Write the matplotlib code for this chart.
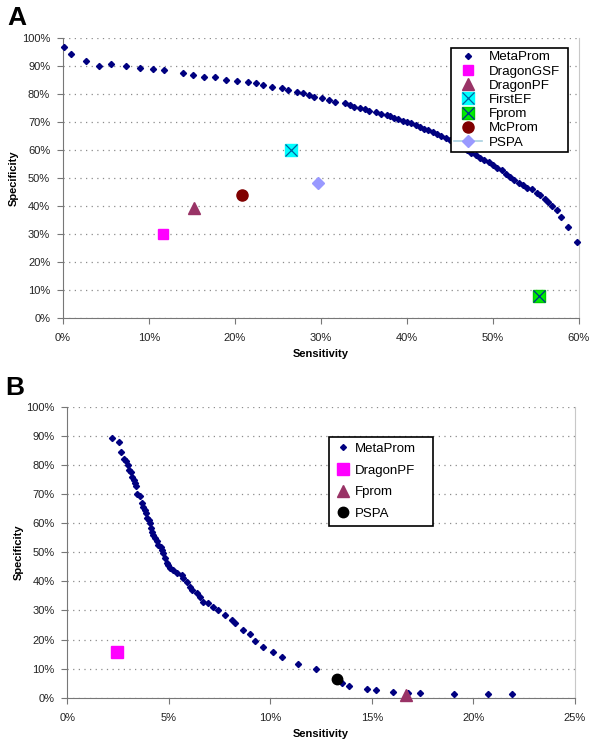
import matplotlib
matplotlib.use("Agg")
import matplotlib.pyplot as plt
from matplotlib.lines import Line2D
from matplotlib.legend_handler import HandlerTuple
from matplotlib.ticker import FuncFormatter

plt.rcParams['font.family'] = ['Liberation Sans', 'DejaVu Sans']

# ---------------- Panel A data (sensitivity %, specificity %) ----------------
a_meta_sens = [0.15, 1.0, 2.7, 4.25, 5.6, 7.3, 9.0, 10.5, 11.8, 14.0, 15.2, 16.4, 17.7,
               19.0, 20.3, 21.5, 22.5, 23.3, 24.3, 25.5, 26.2, 27.2, 27.9, 28.6, 29.2,
               30.1, 30.9, 31.7, 32.8, 33.4, 33.9, 34.5, 35.1, 35.6, 36.4, 37.0, 37.7,
               38.0, 38.5, 39.0, 39.5, 40.0, 40.5, 41.0, 41.5, 42.0, 42.5, 43.0, 43.5,
               44.0, 44.5, 45.0, 45.5, 46.0, 46.5, 47.0, 47.5, 48.0, 48.5, 49.0, 49.5,
               50.0, 50.5, 51.0, 51.5, 52.0, 52.5, 53.0, 53.5, 54.0, 54.5, 55.1, 55.5,
               56.0, 56.4, 56.9, 57.4, 57.9, 58.7, 59.8]
a_meta_spec = [96.6, 94.1, 91.8, 90.0, 90.5, 89.9, 89.3, 88.8, 88.4, 87.5, 86.6, 86.0, 85.9,
               85.0, 84.4, 84.1, 83.7, 83.1, 82.5, 81.9, 81.3, 80.7, 80.1, 79.5, 78.9,
               78.4, 77.8, 77.1, 76.6, 76.0, 75.4, 75.0, 74.4, 73.9, 73.5, 72.8, 72.3,
               72.0, 71.5, 71.0, 70.4, 69.9, 69.4, 68.8, 68.1, 67.5, 66.9, 66.3, 65.6,
               65.0, 64.2, 63.5, 62.6, 61.8, 60.8, 59.8, 58.9, 58.0, 57.2, 56.3, 55.5,
               54.6, 53.6, 52.6, 51.5, 50.4, 49.3, 48.2, 47.3, 46.5, 45.8, 44.6, 43.8,
               42.4, 41.4, 39.9, 38.3, 35.9, 32.5, 27.0]
a_others_names = ['DragonGSF', 'DragonPF', 'FirstEF', 'Fprom', 'McProm', 'PSPA']
a_others_sens = [11.6, 15.3, 26.5, 55.3, 20.8, 29.7]
a_others_spec = [30.0, 39.3, 60.0, 7.8, 43.8, 48.0]

# ---------------- Panel B data ----------------
b_meta_sens = [2.19, 2.56, 2.65, 2.79, 2.89, 3.0, 3.05, 3.12, 3.2, 3.27, 3.33, 3.38, 3.45,
               3.58, 3.66, 3.74, 3.83, 3.88, 3.91, 4.01, 4.07, 4.12, 4.19, 4.24, 4.32,
               4.4, 4.48, 4.6, 4.65, 4.73, 4.81, 4.90, 4.98, 5.06, 5.22, 5.39, 5.64,
               5.71, 5.88, 6.04, 6.13, 6.37, 6.54, 6.70, 6.95, 7.19, 7.44, 7.77, 8.10,
               8.26, 8.67, 9.0, 9.25, 9.66, 10.12, 10.56, 11.35, 12.24, 13.52, 13.89,
               14.75, 15.21, 16.06, 16.77, 17.37, 19.05, 20.74, 21.89]
b_meta_spec = [89.3, 87.8, 84.3, 81.9, 81.3, 80.0, 78.2, 77.7, 75.7, 74.8, 73.7, 72.7, 69.9,
               69.4, 66.8, 65.6, 64.5, 63.4, 61.6, 61.1, 59.9, 58.2, 57.0, 55.9, 54.8,
               53.8, 52.5, 51.7, 50.8, 49.6, 47.9, 46.2, 45.6, 44.5, 43.9, 42.7, 42.2,
               41.0, 39.9, 38.1, 37.0, 35.9, 34.7, 33.0, 32.4, 31.3, 30.1, 28.4, 26.7,
               25.6, 23.3, 21.9, 19.6, 17.5, 15.7, 14.1, 11.6, 9.9, 4.95, 4.1,
               3.0, 2.5, 2.0, 1.7, 1.5, 1.3, 1.2, 1.2]
b_others_names = ['DragonPF', 'Fprom', 'PSPA']
b_others_sens = [2.45, 16.7, 13.27]
b_others_spec = [15.6, 0.9, 6.5]

a_xticks = [0, 10, 20, 30, 40, 50, 60]
b_xticks = [0, 5, 10, 15, 20, 25]
yticks = [0, 10, 20, 30, 40, 50, 60, 70, 80, 90, 100]

W, H = 600, 743
fig = plt.figure(figsize=(W / 100, H / 100), dpi=100)

NAVY = '#000080'
pct = FuncFormatter(lambda v, p: f"{v:.0f}%")


def style_axes(ax, xmax, xticks):
    ax.set_xlim(0, xmax)
    ax.set_ylim(0, 100)
    ax.set_xticks(xticks)
    ax.set_yticks(yticks)
    ax.xaxis.set_major_formatter(pct)
    ax.yaxis.set_major_formatter(pct)
    ax.yaxis.grid(True, linestyle=(0, (1, 3.5)), color='#8c8c8c', linewidth=0.9)
    ax.set_axisbelow(True)
    ax.spines['top'].set_visible(False)
    ax.spines['right'].set_color('#c8c8c8')
    ax.spines['left'].set_color('#777777')
    ax.spines['bottom'].set_color('#777777')
    ax.tick_params(axis='both', direction='out', length=4, width=0.8, color='#777777',
                   labelsize=8, labelcolor='#222222')
    ax.tick_params(axis='x', pad=7)
    ax.tick_params(axis='y', pad=5)
    ax.set_xlabel('Sensitivity', fontsize=8, fontweight='bold', labelpad=4)
    ax.set_ylabel('Specificity', fontsize=8, fontweight='bold', labelpad=2)


# ---------------- Panel A ----------------
A_L, A_R, A_T, A_B = 62.7, 579.0, 37.7, 317.7
axA = fig.add_axes([A_L / W, 1 - A_B / H, (A_R - A_L) / W, (A_B - A_T) / H])
style_axes(axA, 60, a_xticks)

hm, = axA.plot(a_meta_sens, a_meta_spec, linestyle='none', marker='D', ms=3.1,
               color=NAVY, mec=NAVY, clip_on=False, zorder=3)
i = {n: k for k, n in enumerate(a_others_names)}
h1, = axA.plot([a_others_sens[i['DragonGSF']]], [a_others_spec[i['DragonGSF']]], 's',
               ms=7, color='#FF00FF', mec='#FF00FF', linestyle='none', zorder=4)
h2, = axA.plot([a_others_sens[i['DragonPF']]], [a_others_spec[i['DragonPF']]], '^',
               ms=8, color='#993366', mec='#993366', linestyle='none', zorder=4)
h3a, = axA.plot([a_others_sens[i['FirstEF']]], [a_others_spec[i['FirstEF']]], 's',
                ms=9, color='#00FFFF', mec='#00FFFF', linestyle='none', zorder=4)
h3b, = axA.plot([a_others_sens[i['FirstEF']]], [a_others_spec[i['FirstEF']]], 'x',
                ms=8, color='#0060a0', mew=0.9, linestyle='none', zorder=5)
h4a, = axA.plot([a_others_sens[i['Fprom']]], [a_others_spec[i['Fprom']]], 's',
                ms=9, color='#00EE00', mec='#00CC00', linestyle='none', zorder=4)
h4b, = axA.plot([a_others_sens[i['Fprom']]], [a_others_spec[i['Fprom']]], 'x',
                ms=8, color='#003090', mew=0.9, linestyle='none', zorder=5)
h5, = axA.plot([a_others_sens[i['McProm']]], [a_others_spec[i['McProm']]], 'o',
               ms=8, color='#800000', mec='#800000', linestyle='none', zorder=4)
h6, = axA.plot([a_others_sens[i['PSPA']]], [a_others_spec[i['PSPA']]], 'D',
               ms=6.5, color='#9999FF', mec='#9999FF', linestyle='none', zorder=4)
h6leg = Line2D([], [], color='#a8d0e0', lw=1.2, marker='D', ms=6.5,
               mfc='#9999FF', mec='#9999FF')

legA_box = ((450.7 - A_L) / (A_R - A_L), 1 - (47.7 - A_T) / (A_B - A_T),
            (568.3 - 450.7) / (A_R - A_L), 0.0)
legA = axA.legend([hm, h1, h2, (h3a, h3b), (h4a, h4b), h5, h6leg],
                  ['MetaProm'] + a_others_names,
                  handler_map={tuple: HandlerTuple(ndivide=1, pad=0)},
                  loc='upper left', bbox_to_anchor=legA_box, mode='expand',
                  fontsize=9.6, frameon=True, fancybox=False, edgecolor='black',
                  framealpha=1, labelspacing=0.14, handlelength=2.1, handletextpad=0.5,
                  borderpad=0.25, borderaxespad=0)
legA.get_frame().set_linewidth(1.2)

# ---------------- Panel B ----------------
B_L, B_R, B_T, B_B = 67.3, 575.0, 406.7, 697.7
axB = fig.add_axes([B_L / W, 1 - B_B / H, (B_R - B_L) / W, (B_B - B_T) / H])
style_axes(axB, 25, b_xticks)

bm, = axB.plot(b_meta_sens, b_meta_spec, linestyle='none', marker='D', ms=3.1,
               color=NAVY, mec=NAVY, clip_on=False, zorder=3)
j = {n: k for k, n in enumerate(b_others_names)}
b1, = axB.plot([b_others_sens[j['DragonPF']]], [b_others_spec[j['DragonPF']]], 's',
               ms=8, color='#FF00FF', mec='#FF00FF', linestyle='none', zorder=4)
b2, = axB.plot([b_others_sens[j['Fprom']]], [b_others_spec[j['Fprom']]], '^',
               ms=9, color='#993366', mec='#993366', linestyle='none', zorder=4,
               clip_on=False)
b3, = axB.plot([b_others_sens[j['PSPA']]], [b_others_spec[j['PSPA']]], 'o',
               ms=7.5, color='black', mec='black', linestyle='none', zorder=4)
bm_leg = Line2D([], [], linestyle='none', marker='D', ms=3.0, color=NAVY, mec=NAVY)

legB_box = ((328.7 - B_L) / (B_R - B_L), 1 - (436.7 - B_T) / (B_B - B_T),
            (433.3 - 328.7) / (B_R - B_L), 0.0)
legB = axB.legend([bm_leg, b1, b2, b3], ['MetaProm'] + b_others_names,
                  loc='upper left', bbox_to_anchor=legB_box, mode='expand',
                  fontsize=9.5, frameon=True, fancybox=False, edgecolor='black',
                  framealpha=1, labelspacing=0.72, handlelength=1.3, handletextpad=0.25,
                  borderpad=0.45, borderaxespad=0)
legB.get_frame().set_linewidth(1.2)

# Panel letters
fig.text(7 / W, 1 - 18 / H, 'A', fontsize=19, fontweight='bold', va='center', ha='left')
fig.text(5 / W, 1 - 388 / H, 'B', fontsize=19, fontweight='bold', va='center', ha='left')

fig.savefig('out.png', dpi=100)
